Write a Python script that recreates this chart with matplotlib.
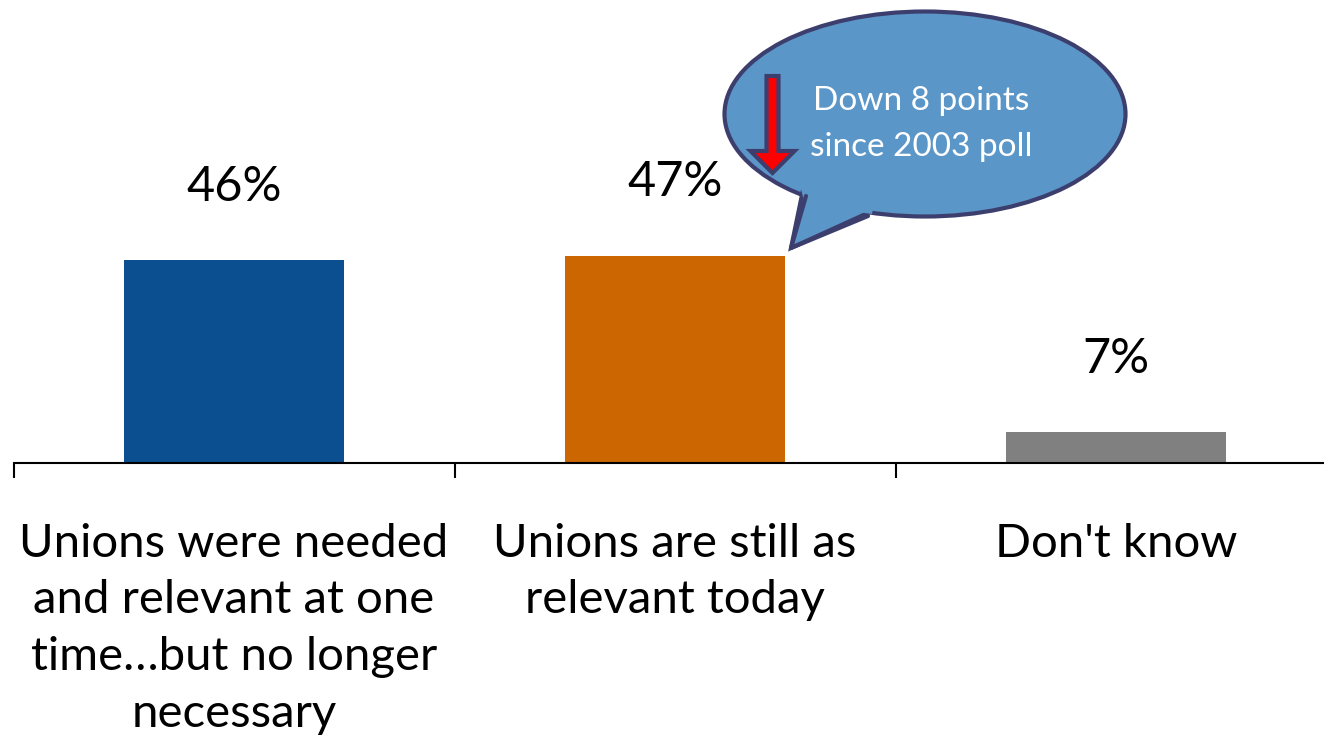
import matplotlib
matplotlib.use("Agg")
import matplotlib.pyplot as plt
from matplotlib.patches import Ellipse, Polygon, FancyArrow

plt.rcParams['font.family'] = ['Lato', 'DejaVu Sans']

categories = [
    "Unions were needed\nand relevant at one\ntime\u2026but no longer\nnecessary",
    "Unions are still as\nrelevant today",
    "Don't know",
]
values = [46, 47, 7]
value_labels = ["46%", "47%", "7%"]
colors = ["#0b4f91", "#cc6600", "#808080"]
callout_text = "Down 8 points\nsince 2003 poll"

W, H = 1324, 737
fig = plt.figure(figsize=(W / 100, H / 100), dpi=100)

# main bar axes: baseline at y=463 px, category slots span 441 px each
left_px, base_px, right_px = 13.5, 463, 1336.5
ax = fig.add_axes([left_px / W, (H - base_px) / H, (right_px - left_px) / W, base_px / H])
x = range(len(values))
ax.bar(x, values, width=0.5, color=colors, zorder=2)
ax.set_xlim(-0.5, 2.5)
ax.set_ylim(0, 105)

for xi, v, lab in zip(x, values, value_labels):
    ax.annotate(lab, (xi, v), xytext=(0, 53), textcoords="offset points",
                ha="center", va="center", fontsize=35, color="black")

for s in ["top", "right", "left"]:
    ax.spines[s].set_visible(False)
ax.spines["bottom"].set_linewidth(1.5)
ax.set_yticks([])
ax.set_xticks(list(x))
ax.set_xticklabels(categories, fontsize=34, linespacing=1.43, va="top")
ax.tick_params(axis="x", which="major", length=0, pad=43)
ax.set_xticks([-0.5, 0.5, 1.5, 2.5], minor=True)
ax.tick_params(axis="x", which="minor", length=11, width=1.5, direction="out")

# overlay in pixel coordinates for the speech bubble
ov = fig.add_axes([0, 0, 1, 1], facecolor="none")
ov.set_xlim(0, W)
ov.set_ylim(H, 0)
ov.axis("off")

fill_c = "#5b96c8"
edge_c = "#3c3f6e"
ell = Ellipse((925, 114), 401, 205, facecolor=fill_c, edgecolor=edge_c, lw=3, zorder=1)
ov.add_patch(ell)
tail = Polygon([(803, 190), (791, 248), (870, 212)], closed=False,
               facecolor=fill_c, edgecolor=edge_c, lw=3, zorder=2, joinstyle="miter")
ov.add_patch(tail)
# patch over the ellipse edge where the tail joins
cover = Polygon([(800, 185), (805, 205), (872, 214), (875, 200)], closed=True,
                facecolor=fill_c, edgecolor="none", zorder=3)
ov.add_patch(cover)
ov.plot([791, 806], [248, 196], color=edge_c, lw=3, zorder=4, solid_capstyle="round")
ov.plot([791, 868], [248, 216], color=edge_c, lw=3, zorder=4, solid_capstyle="round")

arrow = FancyArrow(772.5, 76, 0, 97, width=12, head_width=44, head_length=22,
                   length_includes_head=True, facecolor="#ff0000", edgecolor=edge_c,
                   lw=3, zorder=5)
ov.add_patch(arrow)

ov.text(921, 124, callout_text, ha="center", va="center", color="white",
        fontsize=24, linespacing=1.7, zorder=6)

fig.savefig("out.png", dpi=100)
